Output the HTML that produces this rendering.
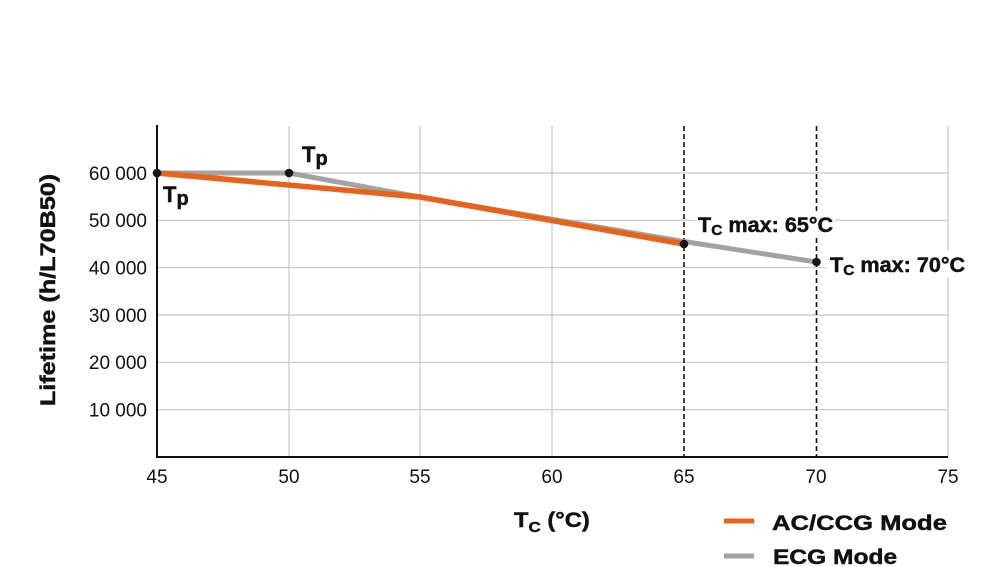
<!DOCTYPE html>
<html>
<head>
<meta charset="utf-8">
<style>
  html,body{margin:0;padding:0;background:#fff;}
  svg{display:block;}
  text{font-family:"Liberation Sans",Arial,sans-serif;fill:#111;}
  .tick{font-size:19px;}
  .b{font-weight:bold;stroke:#111;stroke-width:0.45px;}
</style>
</head>
<body>
<svg width="1000" height="567" viewBox="0 0 1000 567" xmlns="http://www.w3.org/2000/svg">
  <rect width="1000" height="567" fill="#fff"/>
  <!-- grid -->
  <g stroke="#c8c8c8" stroke-width="1.2" fill="none">
    <line x1="157" y1="173" x2="948" y2="173"/>
    <line x1="157" y1="220.3" x2="948" y2="220.3"/>
    <line x1="157" y1="267.7" x2="948" y2="267.7"/>
    <line x1="157" y1="315" x2="948" y2="315"/>
    <line x1="157" y1="362.3" x2="948" y2="362.3"/>
    <line x1="157" y1="409.7" x2="948" y2="409.7"/>
    <line x1="289" y1="126" x2="289" y2="457"/>
    <line x1="420" y1="126" x2="420" y2="457"/>
    <line x1="552" y1="126" x2="552" y2="457"/>
    <line x1="948" y1="126" x2="948" y2="457"/>
  </g>
  <!-- dashed verticals -->
  <g stroke="#111" stroke-width="1.6" stroke-dasharray="5,3">
    <line x1="684" y1="126" x2="684" y2="457"/>
    <line x1="816.5" y1="126" x2="816.5" y2="457"/>
  </g>
  <!-- axes -->
  <g stroke="#111" stroke-width="2">
    <line x1="157" y1="125" x2="157" y2="458"/>
    <line x1="156" y1="457" x2="948" y2="457"/>
  </g>
  <!-- series -->
  <polyline points="157,173 289,173 420,197 684,241.5 816.5,262" fill="none" stroke="#a3a3a3" stroke-width="5" stroke-linejoin="round"/>
  <polyline points="157,173 420,197 684,244" fill="none" stroke="#e8621a" stroke-width="5.5" stroke-linejoin="round"/>
  <!-- dots -->
  <g fill="#151515">
    <circle cx="157" cy="173" r="4.3"/>
    <circle cx="289" cy="173" r="4.3"/>
    <circle cx="684" cy="244" r="4.3"/>
    <circle cx="816.5" cy="262" r="4.3"/>
  </g>
  <!-- y tick labels -->
  <g class="tick" text-anchor="end">
    <text x="147" y="180">60 000</text>
    <text x="147" y="227">50 000</text>
    <text x="147" y="274.5">40 000</text>
    <text x="147" y="322">30 000</text>
    <text x="147" y="369">20 000</text>
    <text x="147" y="416.5">10 000</text>
  </g>
  <!-- x tick labels -->
  <g class="tick" text-anchor="middle">
    <text x="157" y="483">45</text>
    <text x="289" y="483">50</text>
    <text x="420" y="483">55</text>
    <text x="552" y="483">60</text>
    <text x="684" y="483">65</text>
    <text x="816" y="483">70</text>
    <text x="948" y="483">75</text>
  </g>
  <!-- point labels -->
  <text class="b" x="163" y="202" font-size="22">T<tspan font-size="20" dy="3">p</tspan></text>
  <text class="b" x="302" y="162" font-size="22">T<tspan font-size="20" dy="3">p</tspan></text>
  <rect x="695" y="212" width="140" height="26" fill="#fff"/>
  <text class="b" font-size="21" transform="translate(698,232) scale(1.03,1)">T<tspan font-size="15" dy="3">C</tspan><tspan dy="-3"> max: 65°C</tspan></text>
  <rect x="826" y="251" width="142" height="26" fill="#fff"/>
  <text class="b" font-size="21" transform="translate(830,272) scale(1.03,1)">T<tspan font-size="15" dy="3">C</tspan><tspan dy="-3"> max: 70°C</tspan></text>
  <!-- y axis title -->
  <text class="b" font-size="21" text-anchor="middle" transform="translate(55,290) rotate(-90) scale(1.2,1)">Lifetime (h/L70B50)</text>
  <!-- x axis title -->
  <text class="b" font-size="21" transform="translate(514,527) scale(1.13,1)">T<tspan font-size="15" dy="5">C</tspan><tspan dy="-5"> (°C)</tspan></text>
  <!-- legend -->
  <line x1="724" y1="521" x2="754" y2="521" stroke="#e8621a" stroke-width="5"/>
  <text class="b" font-size="21" transform="translate(772,530) scale(1.22,1)">AC/CCG Mode</text>
  <line x1="724" y1="556" x2="754" y2="556" stroke="#a3a3a3" stroke-width="5"/>
  <text class="b" font-size="21" transform="translate(773,564) scale(1.17,1)">ECG Mode</text>
</svg>
</body>
</html>
